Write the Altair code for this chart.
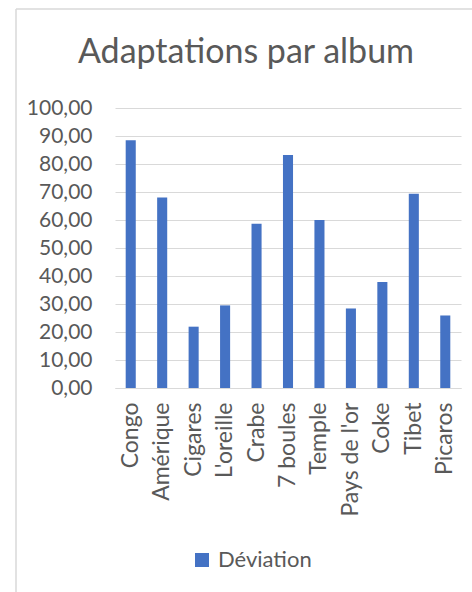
import altair as alt
import pandas as pd

title_text = "Adaptations par album"
albums = ["Congo", "Amérique", "Cigares", "L'oreille", "Crabe", "7 boules",
          "Temple", "Pays de l'or", "Coke", "Tibet", "Picaros"]
deviation = [88.5, 68.0, 21.9, 29.5, 58.7, 83.2, 60.0, 28.4, 37.9, 69.4, 25.9]
series_name = "Déviation"
y_ticks = [0, 10, 20, 30, 40, 50, 60, 70, 80, 90, 100]

df = pd.DataFrame({"album": albums, "valeur": deviation, "serie": [series_name] * len(albums)})
title_df = pd.DataFrame({"t": [title_text]})

FONT = "Lato"
GREY = "#595959"
BORDER = "#d9d9d9"

bars = alt.Chart(df).mark_bar(color="#4472C4").encode(
    x=alt.X("album:N", sort=None,
            scale=alt.Scale(paddingInner=0.68, paddingOuter=0.34),
            axis=alt.Axis(title=None, labelAngle=-90, labelAlign="right", labelBaseline="middle",
                          labelPadding=14, ticks=False, domainColor=BORDER, domainWidth=1,
                          labelFont=FONT, labelFontSize=23, labelColor=GREY, grid=False)),
    y=alt.Y("valeur:Q", scale=alt.Scale(domain=[0, 100], nice=False),
            axis=alt.Axis(title=None, values=y_ticks, labelExpr="replace(format(datum.value, '.2f'), '.', ',')",
                          ticks=False, domain=False, labelPadding=23,
                          labelFont=FONT, labelFontSize=21, labelColor=GREY,
                          gridColor=BORDER, gridWidth=1)),
    color=alt.Color("serie:N", scale=alt.Scale(range=["#4472C4"]),
                    legend=alt.Legend(title=None, orient="none", legendX=76, legendY=441,
                                      symbolType="square", symbolSize=196, symbolStrokeWidth=0,
                                      labelFont=FONT, labelFontSize=22, labelColor=GREY,
                                      labelOffset=5)),
)

title = alt.Chart(title_df).mark_text(font=FONT, fontSize=34, color=GREY, align="center",
                                      baseline="alphabetic").encode(
    text="t:N", x=alt.value(131), y=alt.value(-45))

border_left = alt.Chart(title_df).mark_rule(color=BORDER, strokeWidth=1.5, clip=False).encode(
    x=alt.value(-99), y=alt.value(-99), y2=alt.value(500))
border_top = alt.Chart(title_df).mark_rule(color=BORDER, strokeWidth=1.5, clip=False).encode(
    x=alt.value(-99), x2=alt.value(360), y=alt.value(-99))

chart = alt.layer(border_left, border_top, title, bars).properties(
    width=346, height=280,
    autosize=alt.AutoSizeParams(type="none"),
    padding={"left": 115, "top": 108, "right": 11, "bottom": 204},
).configure(background="white").configure_view(stroke=None)

chart.save("out.html", embed_options={"renderer": "svg", "actions": False})
